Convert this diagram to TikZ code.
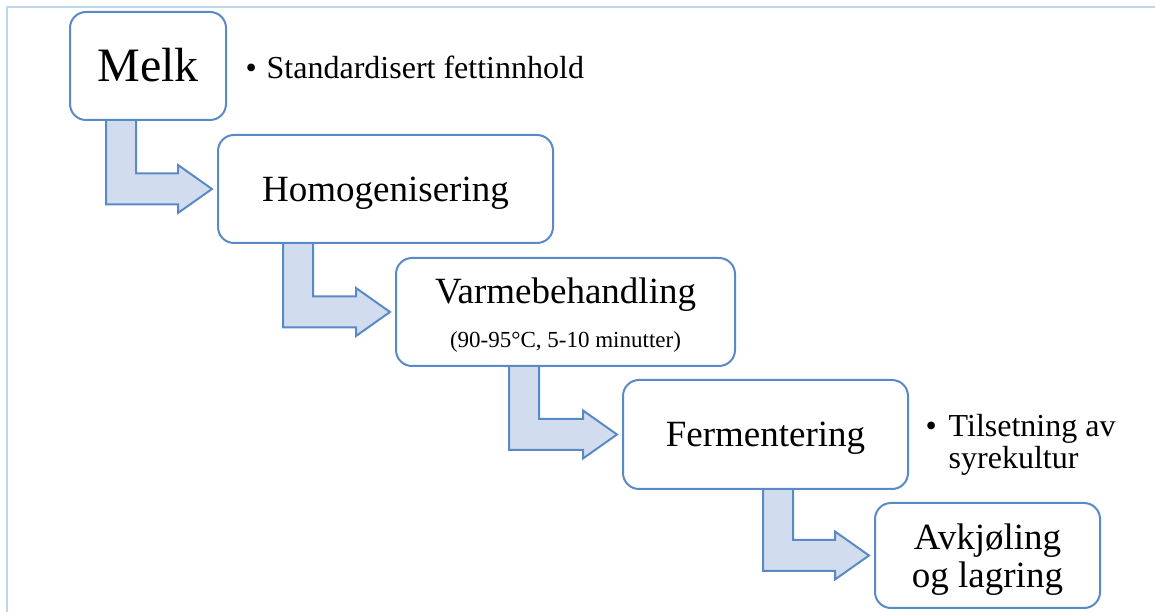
\documentclass[tikz,border=0pt]{standalone}
\usepackage{fontspec}
\setmainfont{Liberation Serif}
\usetikzlibrary{calc}
\definecolor{boxblue}{HTML}{5A8AC6}
\definecolor{arrowfill}{HTML}{D1DDEF}
\definecolor{frameblue}{HTML}{BDD7EE}
\pgfdeclarelayer{bg}
\pgfsetlayers{bg,main}
\newcommand\bentarrow[3]{%
  \begin{pgfonlayer}{bg}
  \draw[flowarrow] let \p1=(#1.center), \p2=($(#2.west)+(-5,0)$) in
    (#3,\y1) -- (#3+30,\y1) -- (#3+30,\y2+15.5) -- (\x2-34,\y2+15.5)
    -- (\x2-34,\y2+24) -- (\x2,\y2) -- (\x2-34,\y2-24) -- (\x2-34,\y2-15.5)
    -- (#3,\y2-15.5) -- cycle;
  \end{pgfonlayer}}
\begin{document}
\begin{tikzpicture}[x=1pt,y=1pt,
  stepbox/.style={draw=boxblue, line width=2pt, rounded corners=16pt, fill=white,
    align=center, inner sep=0pt, font=\fontsize{37}{38}\selectfont},
  oneline/.style={text height=24.5pt, text depth=0pt},
  flowarrow/.style={draw=boxblue, line width=2pt, fill=arrowfill, line join=miter},
  note/.style={inner sep=0pt, font=\fontsize{32}{31}\selectfont},
  frame/.style={draw=frameblue, line width=2pt}]
\useasboundingbox (0,0) rectangle (1155,612);
\coordinate (ftl) at (7,605);
\coordinate (ftr) at (1155,605);
\coordinate (fbl) at (7,0);
\draw[frame] (ftr) -- (ftl) -- (fbl);

\node[stepbox, text height=32pt, text depth=0pt, minimum width=156pt, minimum height=108pt,
  font=\fontsize{48}{50}\selectfont] (melk) at (148,546) {Melk};
\node[stepbox, oneline, minimum width=335pt, minimum height=108pt] (homo) at (385.5,423) {Homogenisering};
\node[stepbox, minimum width=339pt, minimum height=108pt,
  font=\fontsize{37}{44}\selectfont] (varme) at (565.5,300)
  {\rule{0pt}{31.5pt}Varmebehandling\\{\fontsize{23}{44}\selectfont(90-95°C, 5-10 minutter)}};
\node[stepbox, oneline, minimum width=285pt, minimum height=109pt] (ferm) at (765.5,177.5) {Fermentering};
\node[stepbox, minimum width=225pt, minimum height=105pt] (avk) at (987.5,56.5) {\rule{0pt}{33pt}Avkjøling\\og lagring};

\bentarrow{melk}{homo}{106}
\bentarrow{homo}{varme}{283}
\bentarrow{varme}{ferm}{509}
\bentarrow{ferm}{avk}{763}

\node[note, anchor=base west] (n1) at (245.5,533) {\makebox[21pt][l]{•}Standardisert fettinnhold};
\node[note, anchor=base west] (n2) at (925.5,175)
  {\begin{tabular}[t]{@{}l@{}l@{}}\makebox[23pt][l]{•} & Tilsetning av\\ & syrekultur\end{tabular}};
\end{tikzpicture}
\end{document}
